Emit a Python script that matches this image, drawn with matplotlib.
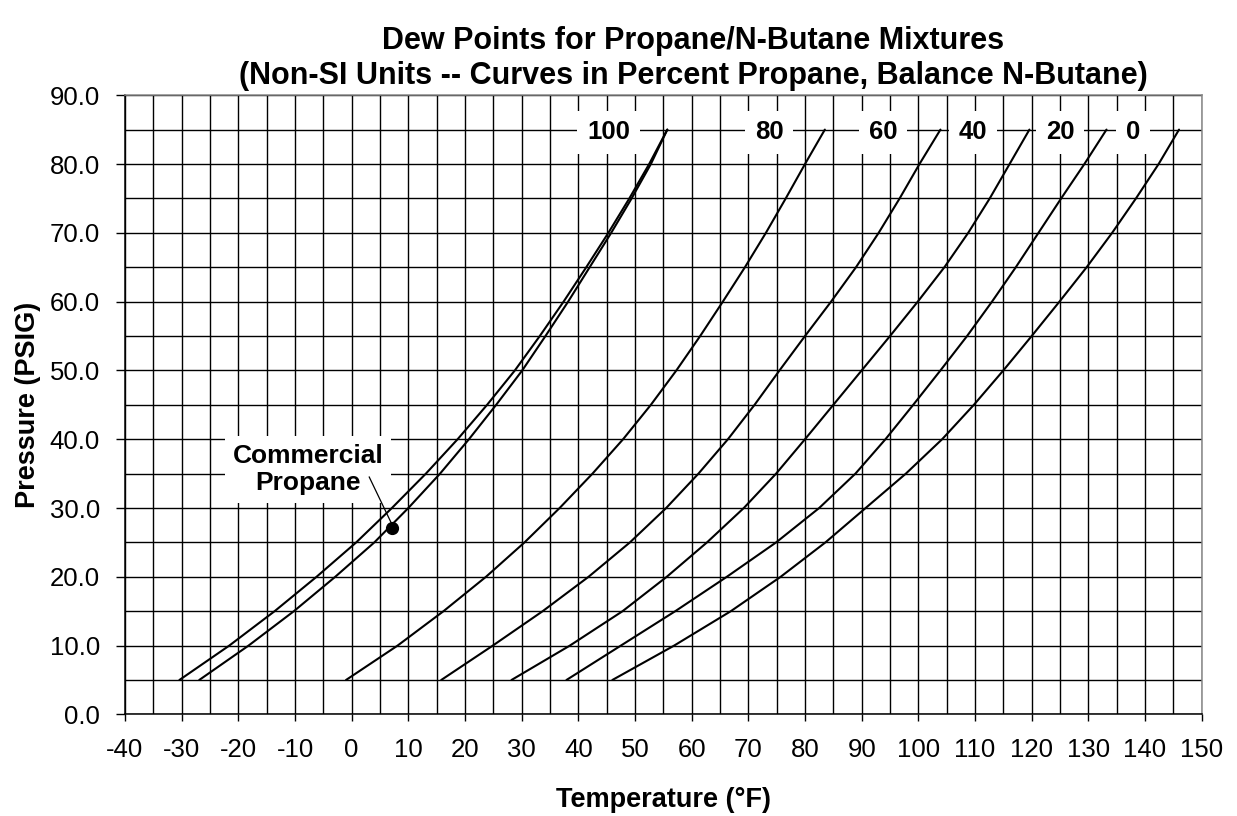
import matplotlib
matplotlib.use('Agg')
import matplotlib.pyplot as plt
from matplotlib.ticker import MultipleLocator, FormatStrFormatter

plt.rcParams['font.family'] = ['Liberation Sans', 'DejaVu Sans']
plt.rcParams['axes.unicode_minus'] = False

# ---- data ----
PRESSURE = [5, 10, 15, 20, 25, 30, 35, 40, 45, 50, 55, 60, 65, 70, 75, 80, 85]

T_100 = [-30.4, -21.6, -13.6, -6.2, 0.8, 7.1, 13.1, 18.7, 23.9, 28.8, 33.2, 37.4, 41.4, 45.3, 49.0, 52.5, 55.7]
T_COMM = [-26.9, -18.2, -10.2, -2.9, 4.0, 10.0, 15.6, 20.7, 25.5, 30.1, 34.2, 38.2, 42.0, 45.8, 49.4, 52.8, 55.7]
T_80 = [-1.0, 8.1, 16.2, 23.7, 30.5, 36.7, 42.5, 47.9, 52.8, 57.3, 61.5, 65.5, 69.4, 73.1, 76.6, 80.0, 83.5]
T_60 = [15.8, 24.9, 33.7, 41.8, 49.1, 55.5, 61.2, 66.4, 71.1, 75.5, 80.0, 84.6, 89.0, 93.0, 96.7, 100.2, 103.9]
T_40 = [28.2, 38.5, 47.8, 55.6, 62.7, 69.2, 74.9, 80.0, 85.0, 90.0, 95.0, 99.9, 104.6, 108.8, 112.6, 116.1, 119.6]
T_20 = [37.9, 47.5, 57.1, 66.2, 74.9, 82.5, 88.9, 94.2, 99.1, 103.9, 108.6, 113.0, 117.2, 121.2, 125.2, 129.3, 133.2]
T_0 = [46.0, 56.9, 66.9, 75.7, 83.6, 90.7, 97.8, 104.2, 109.8, 115.0, 120.0, 124.9, 129.7, 134.2, 138.4, 142.4, 146.0]

CURVE_LABELS = ['100', '80', '60', '40', '20', '0']
CURVE_LABEL_X = [45.3, 73.7, 93.8, 109.7, 125.0, 137.9]
CURVE_LABEL_Y = 84.6

COMM_POINT_T = 7.06
COMM_POINT_P = 27.1
COMM_TEXT = 'Commercial\nPropane'
COMM_TEXT_POS = (-7.7, 35.6)
COMM_LEADER_START = (3.1, 34.5)

TITLE_1 = 'Dew Points for Propane/N-Butane Mixtures'
TITLE_2 = '(Non-SI Units -- Curves in Percent Propane, Balance N-Butane)'
XLABEL = 'Temperature (°F)'
YLABEL = 'Pressure (PSIG)'

# ---- figure ----
W, H = 1237, 816
fig = plt.figure(figsize=(W / 100, H / 100), dpi=100)
ax_l, ax_r, ax_b, ax_t = 125 / W, 1201.7 / W, 1 - 714.4 / H, 1 - 95.2 / H
ax = fig.add_axes([ax_l, ax_b, ax_r - ax_l, ax_t - ax_b])

ax.set_xlim(-40, 150)
ax.set_ylim(0, 90)
ax.xaxis.set_major_locator(MultipleLocator(10))
ax.xaxis.set_minor_locator(MultipleLocator(5))
ax.yaxis.set_major_locator(MultipleLocator(10))
ax.yaxis.set_minor_locator(MultipleLocator(5))
ax.yaxis.set_major_formatter(FormatStrFormatter('%.1f'))
ax.grid(which='both', color='black', linewidth=1.0)
ax.tick_params(which='minor', length=0)
ax.tick_params(axis='x', which='major', length=5, width=1, pad=12, labelsize=18.5)
ax.tick_params(axis='y', which='major', length=6.5, width=1, pad=11.5, labelsize=18.5)
for side in ['left', 'bottom']:
    ax.spines[side].set_color('black')
    ax.spines[side].set_linewidth(1.1)
for side in ['top', 'right']:
    ax.spines[side].set_color('#888888')
    ax.spines[side].set_linewidth(1.1)

for temps in [T_100, T_COMM, T_80, T_60, T_40, T_20, T_0]:
    ax.plot(temps, PRESSURE, color='black', linewidth=1.5, zorder=2.5,
            solid_joinstyle='round', solid_capstyle='round')

for lab, lx in zip(CURVE_LABELS, CURVE_LABEL_X):
    ax.text(lx, CURVE_LABEL_Y, lab, ha='center', va='center', fontsize=18.5,
            fontweight='bold', zorder=4,
            bbox=dict(boxstyle='square,pad=0.38', facecolor='white', edgecolor='none'))

# Commercial propane annotation
ax.text(COMM_TEXT_POS[0], COMM_TEXT_POS[1], COMM_TEXT, ha='center', va='center',
        fontsize=19, fontweight='bold', linespacing=1.15, zorder=4,
        bbox=dict(boxstyle='square,pad=0.3', facecolor='white', edgecolor='none'))
ax.plot([COMM_LEADER_START[0], COMM_POINT_T], [COMM_LEADER_START[1], COMM_POINT_P + 0.6],
        color='black', linewidth=0.9, zorder=5)
ax.plot([COMM_POINT_T], [COMM_POINT_P], marker='o', markersize=8.5, color='black', zorder=5)

# titles and axis labels
tx = 693 / W
fig.text(tx, 1 - 41 / H, TITLE_1, ha='center', va='center', fontsize=22, fontweight='bold')
fig.text(tx, 1 - 76 / H, TITLE_2, ha='center', va='center', fontsize=22, fontweight='bold')
cx = (125 + 1201.7) / 2 / W
fig.text(cx, 1 - 800 / H, XLABEL, ha='center', va='center', fontsize=19.5, fontweight='bold')
fig.text(28 / W, (ax_b + ax_t) / 2, YLABEL, ha='center', va='center', rotation=90,
         fontsize=19.5, fontweight='bold')

fig.savefig('out.png', dpi=100, facecolor='white')
